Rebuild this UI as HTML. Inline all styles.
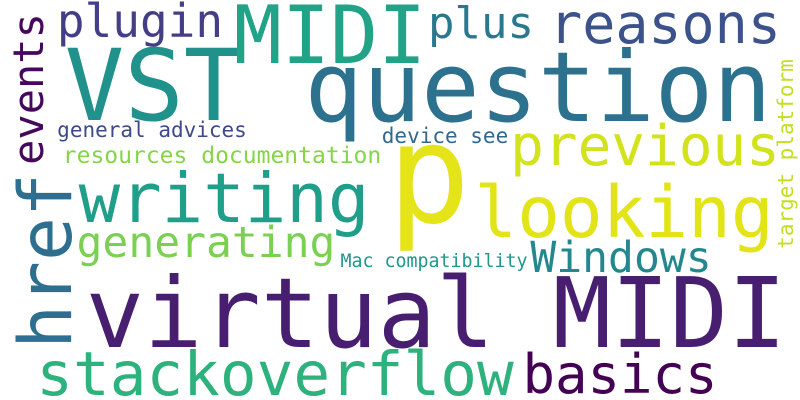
<!DOCTYPE html>
<html><head><meta charset="utf-8"><style>
html,body{margin:0;padding:0;background:#fff;}
svg{display:block;}
text{font-family:"DejaVu Sans Mono","Liberation Mono",monospace;text-anchor:middle;}
</style></head><body>
<svg width="800" height="400" viewBox="0 0 800 400">
<rect width="800" height="400" fill="#ffffff"/>
<text x="436" y="347" font-size="97" fill="#481f70">virtual MIDI</text>
<text x="538" y="121" font-size="97" fill="#2c718e">question</text>
<text x="154" y="120" font-size="99" fill="#21918c">VST</text>
<text x="330" y="63" font-size="80" fill="#20a386">MIDI</text>
<text x="140" y="37" font-size="46" fill="#433e85">plugin</text>
<text x="481" y="38" font-size="44" fill="#2a788e">plus</text>
<text x="665" y="43" font-size="55" fill="#3b528b">reasons</text>
<text x="152" y="137" font-size="21" fill="#3e4989">general advices</text>
<text x="222" y="163" font-size="23" fill="#86d549">resources documentation</text>
<text x="445" y="143" font-size="21" fill="#31688e">device see</text>
<text x="645" y="165" font-size="56" fill="#d2e21b">previous</text>
<text x="224" y="222" font-size="69" fill="#1f9e89">writing</text>
<text x="624" y="237" font-size="71" fill="#e2e418">looking</text>
<text x="206" y="257" font-size="43" fill="#7ad151">generating</text>
<text x="621" y="272" font-size="43" fill="#24878e">Windows</text>
<text x="434" y="267" font-size="18.3" fill="#1f988b">Mac compatibility</text>
<text x="275" y="395" font-size="61" fill="#2db27d">stackoverflow</text>
<text x="620" y="393" font-size="54" fill="#440154">basics</text>
<text x="429" y="222" font-size="138" fill="#e5e419">p</text>
<text transform="translate(43,89) rotate(-90)" x="0" y="0" font-size="42" fill="#46085c">events</text>
<text transform="translate(71,261) rotate(-90)" x="0" y="0" font-size="73" fill="#2e6e8e">href</text>
<text transform="translate(793,154) rotate(-90)" x="0" y="0" font-size="21" fill="#c2df23">target platform</text>
</svg>
</body></html>
